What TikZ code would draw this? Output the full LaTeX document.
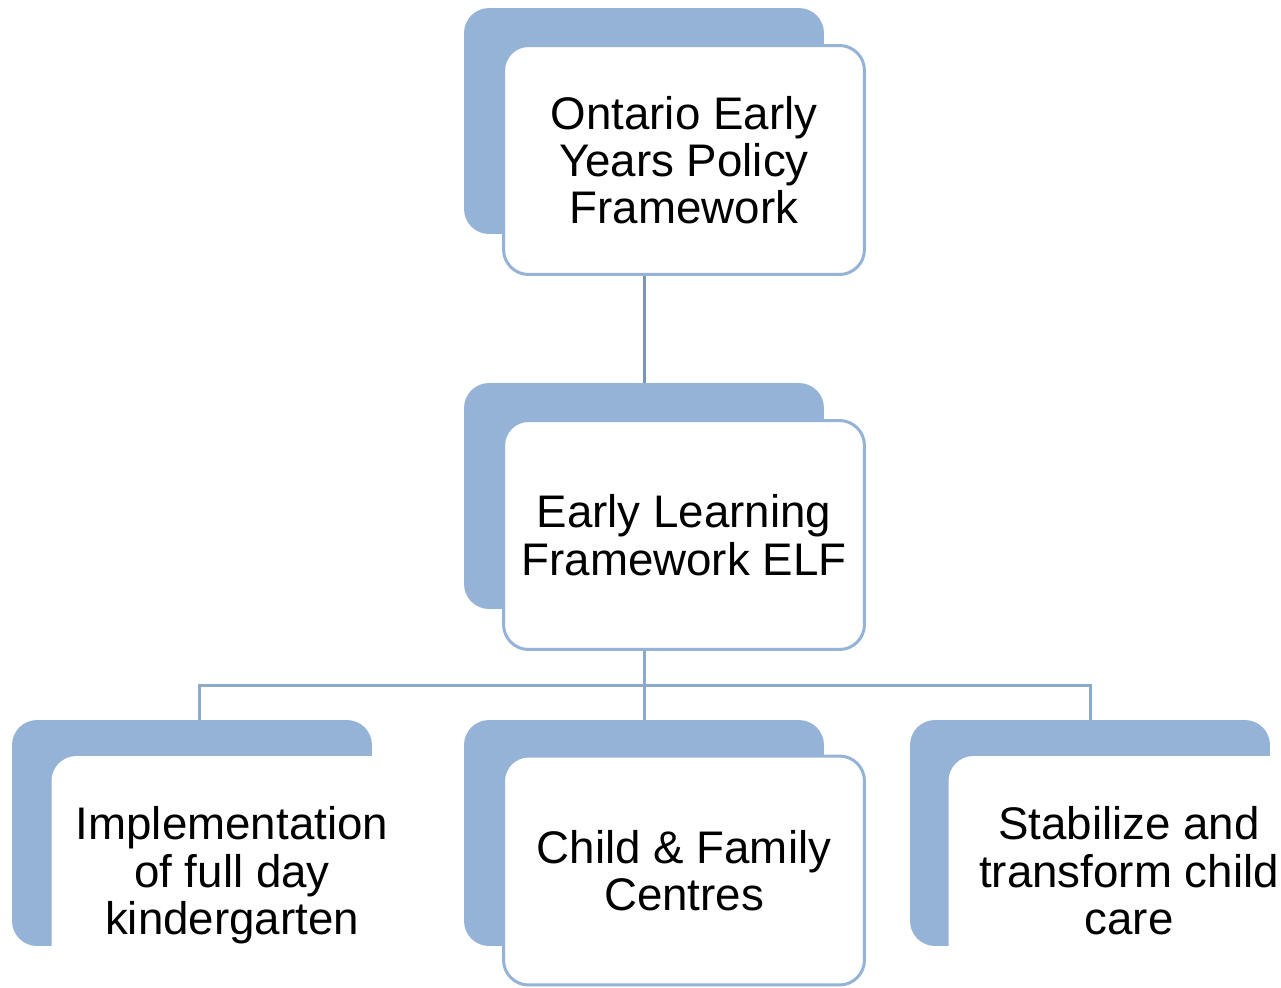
\documentclass[tikz,border=0pt]{standalone}
\usepackage{fontspec}
\setmainfont{Liberation Sans}
\usepackage{tikz}
\usepackage{xcolor}
\usetikzlibrary{shapes, positioning}
\definecolor{boxblue}{HTML}{95B3D7}
\definecolor{linkblue}{HTML}{8EAACB}
\definecolor{linkdark}{HTML}{7B95B3}

\begin{document}
\begin{tikzpicture}[x=0.02cm, y=-0.02cm,
        backbox/.style={rectangle, rounded corners=0.5cm, fill=boxblue, minimum width=7.2cm, minimum height=4.52cm, inner sep=0},
        frontbox/.style={rectangle, rounded corners=0.5cm, draw=boxblue, line width=0.06cm, fill=white, minimum width=7.22cm, minimum height=4.58cm, inner sep=0, align=center, text depth=0pt, font=\fontsize{26}{27}\selectfont},
        sidebox/.style={frontbox, draw=none},
        link/.style={draw=linkblue, line width=0.06cm}]
        \useasboundingbox (0,0) rectangle (1281,987);
        \clip (0,0) rectangle (1281,987);

        \node[backbox] (topb) at (644, 121) {};
        \node[frontbox] (top) at (684, 160) {Ontario Early\\Years Policy\\Framework};

        \node[backbox] (midb) at (644, 496) {};
        \node[frontbox] (mid) at (684, 535) {Early Learning\\Framework ELF};

        \node[backbox] (kgb) at (192, 833) {};
        \node[sidebox] (kg) at (232, 870.5) {Implementation\\of full day\\kindergarten};

        \node[backbox] (cfcb) at (644, 833) {};
        \node[frontbox] (cfc) at (684, 870.5) {Child \& Family\\Centres};

        \node[backbox] (careb) at (1090, 833) {};
        \node[sidebox] (care) at (1129, 870.5) {Stabilize and\\transform child\\care};

        \coordinate (bus) at (644, 685);
        \draw[link, draw=linkdark] (topb.center |- top.south) -- (midb.north);
        \draw[link] (midb.center |- mid.south) -- (bus)
            (bus) -| ([xshift=0.14cm]kgb.north)
            (bus) -- (cfcb.north)
            (bus) -| (careb.north);
\end{tikzpicture}
\end{document}
